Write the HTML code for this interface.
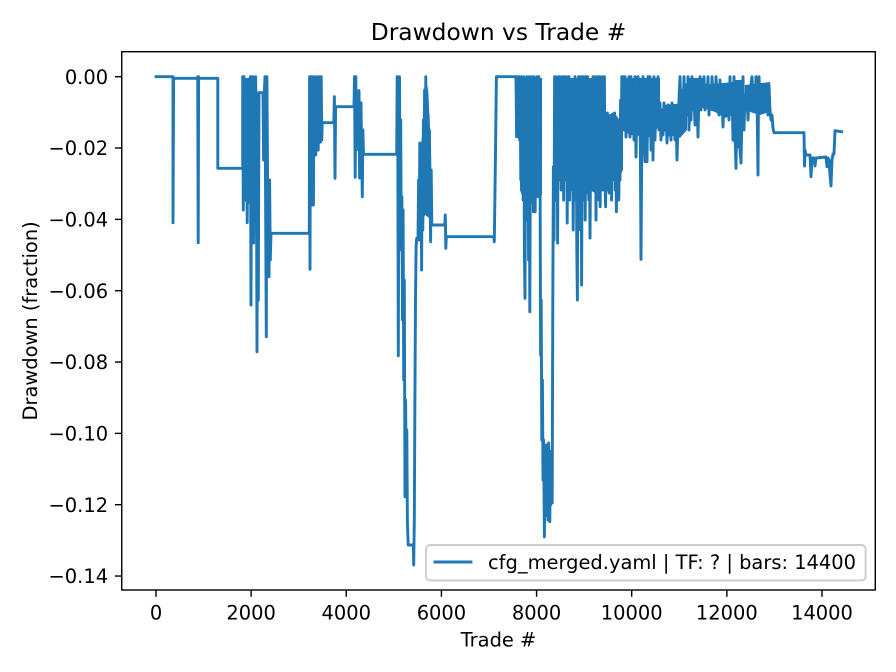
<!DOCTYPE html>
<html>
<head>
<meta charset="utf-8">
<style>
  html, body { margin: 0; padding: 0; background: #ffffff; }
  svg { display: block; }
  text { font-family: "DejaVu Sans", "Liberation Sans", sans-serif; fill: #000; }
</style>
</head>
<body>
<svg width="896" height="672" viewBox="0 0 896 672" xmlns="http://www.w3.org/2000/svg">
  <rect x="0" y="0" width="896" height="672" fill="#ffffff"/>

  <!-- Title -->
  <text x="498.5" y="40" font-size="23.33" text-anchor="middle">Drawdown vs Trade #</text>

  <!-- dense band fills -->
  <g fill="#1f77b4" stroke="none">
    <polygon points="243,78 256,78 256,185 252,200 248,205 243,195"/>
    <polygon points="309.5,78 322,78 322,140 316,150 309.5,150"/>
    <polygon points="419,160 424,120 428,85 431,150 432,220 425,215 419,230"/>
    <polygon points="516.5,78 520,78 520,136 516.5,136"/>
    <polygon points="520,78 542,78 542,195 537,197 533,205 529,200 525,205 520,190"/>
    <polygon points="543.5,450 552,450 552,505 548,515 543.5,520"/>
    <polygon points="555,78 603,78 603,185 598,195 590,190 583,200 578,205 572,195 567,150 562,145 558,140 555,140"/>
    <polygon points="603,120 608,115 614,112 623,125 623,170 617,180 610,182 603,178"/>
    <polygon points="623,78 660,78 660,125 652,135 645,140 637,135 630,135 623,130"/>
    <polygon points="663,105 687,103 687,130 680,138 670,135 663,130"/>
    <polygon points="687,78 703,78 703,108 695,112 687,110"/>
    <polygon points="703,85 733,82 733,115 725,118 715,112 703,108"/>
    <polygon points="733,80 742,80 742,145 736,150 733,140"/>
    <polygon points="745,85 770,82 770,112 760,115 750,112 745,108"/>
  </g>

  <!-- data series -->
  <polyline fill="none" stroke="#1f77b4" stroke-width="2.92" stroke-linejoin="round" stroke-linecap="square" points="
156,76.7 173,76.7 173,222.7 173.6,78.3 197.5,78.3 197.7,76.7 198.2,242.7 198.6,76.7 199,78.3 217.8,78.3 217.8,168.3 242.7,168.3
242.7,76.7 243.3,210 244,76.7 244.6,200 245.3,120 246,185 246.6,90 247.2,222.7 247.8,100 248.4,200 249,88 249.6,150 250.3,76.7 251,305 251.6,76.7 252.3,200 253,76.7 253.6,243 254.3,90 255,180 255.6,76.7 256.3,120 257,351.7 257.6,93 258.3,300 259,92.7 263,92.7 263.6,160 264.3,92.7 265,76.7 265.6,200 266.3,336.7 266.9,76.7 267.6,180 268.3,220 269,276.7 269.6,180 270.3,260 271,233.3 309.3,233.3
309.6,76.7 310,269.3 310.5,76.7 311,150 311.6,205 312.2,76.7 312.8,155 313.4,205 314,76.7 314.6,150 315.2,90 315.8,155 316.4,76.7 317,140 317.6,100 318.2,150 318.8,76.7 319.4,142 320,90 320.6,142 321.2,76.7 321.8,140 322.2,122.7 333.8,122.7 334.4,96.7 335,178.3 335.6,106.7 354,106.7 354.5,76.7 355.2,177.3 355.8,76.7 356.4,150 357,91 357.6,130 358.2,100 359,90.7 359.6,178 360.2,110 361,102.7 361.6,150 362.3,196.7 362.9,130 363.5,154.3 396.7,154.3
397.2,76.7 397.8,140 398.3,355.7 398.9,110 399.5,76.7 400.1,200 400.7,120 401.3,250 401.9,196.7 402.5,320 403.1,210 403.7,380 404.3,280 405,496.7 405.6,400 406.2,473 406.8,430 407.4,523 408.2,545 413.3,545 413.7,565 414.3,521.7 414.9,400 415.5,300 416.1,246.7 416.7,238.3 418,238.3
418.6,180 419.2,240 419.8,143 420.4,200 421,160 421.6,270 422.2,150 422.8,230 423.4,120 424,180 424.6,90 425.2,170 425.8,76.7 426.4,200 427,100 427.6,150 428.2,115 428.8,210 429.4,130 430,190 430.6,241.7 431.2,170 431.8,225 444.8,225 445.3,215 445.8,248.3 446.3,236.7 493.8,236.7 494.3,241.7 494.8,205 495.4,160 496.4,76.7 516,76.7
516.6,136.7 517.2,76.7 517.8,120 518.4,136.7 519,76.7 519.6,140 520.2,90 520.8,180 521.4,76.7 522,160 522.6,100 523.2,200 523.8,76.7 524.4,250 525,298.3 525.6,90 526.2,180 526.8,76.7 527.4,220 528,140 528.6,260 529.2,76.7 529.8,311.7 530.4,150 531,200 531.6,76.7 532.2,190 532.8,120 533.4,211.7 534,76.7 534.6,180 535.2,211.7 535.8,90 536.4,170 537,76.7 537.6,196.7 538.2,120 538.8,76.7 539.4,180 540,150 540.6,355 541.2,300 541.8,440 542.4,380 543,480 543.6,440 544.4,536.7 545,460 545.6,510 546.2,445 546.8,500 547.4,450 548,520 548.6,443 549.2,490 549.8,521.7 550.4,460 551,500 551.6,480 552.2,503 552.8,300 553.4,166.7 554,240 554.6,76.7
555.2,200 555.8,90 556.4,150 557,76.7 557.6,243 558.2,100 558.8,180 559.4,76.7 560,160 560.6,110 561.2,190 561.8,76.7 562.4,150 563,90 563.6,200 564.2,76.7 564.8,150 565.4,120 566,180 566.6,76.7 567.2,223 567.8,100 568.4,170 569,76.7 569.6,200 570.2,110 570.8,150 571.4,103 572,190 572.6,127 573.2,230 573.8,120 574.4,160 575,76.7 575.6,200 576.2,100 576.8,250 577.4,300 578,120 578.6,76.7 579.2,190 579.8,110 580.4,230 581,76.7 581.6,285 582.2,120 582.8,200 583.4,76.7 584,180 584.6,100 585.2,220 585.8,76.7 586.4,160 587,190 587.6,76.7 588.2,150 588.8,200 589.4,127 590,238 590.6,150 591.2,110 591.8,190 592.4,120 593,76.7 593.6,180 594.2,100 594.8,160 595.4,76.7 596,220 596.6,120 597.2,180 597.8,76.7 598.4,150 599,200 599.6,76.7 600.2,206.7 600.8,90 601.4,170 602,76.7 602.6,190 603.2,110 603.8,150 604.4,76.7 605,180 605.6,206.7 606.2,120 606.8,190 607.4,113 608,170 608.6,140 609.2,193 609.8,130 610.4,180 611,150 611.6,200 612.2,120 612.8,170 613.4,130 614,160 614.6,113 615.2,190 615.8,150 616.4,211.7 617,140 617.6,190 618.2,150 618.8,200 619.4,130 620,180 620.6,100 621.2,160 621.8,76.7
622.4,120 623,76.7 624,130 625,76.7 626,137 627,80 628,120 629,76.7 630,137 631,76.7 632,125 633,90 634,140 635,76.7 636,157 637,100 638,76.7 639,130 640,90 641,259.3 642,110 643,76.7 644,140 645,161.7 646,90 647,161.7 648,76.7 649,130 650,76.7 651,150 652,100 653,160 654,76.7 655,140 656,90 657,120 658,76.7 659,130 660,103 661,140 662,110 663,135 664,103 665,130 666,113 667,143 668,105 669,135 670,110 671,140 672,103 673,128 674,115 675,140 676,110 677,160 678,120 679,100 680,76.7 681,110 682,90 683,120 684,76.7 685,125 686,85 687,115 688,76.7 689,130 690,90 691,120 692,76.7 693,110 694,95 695,125 696,80 697,100 698,137 699,90 700,76.7 701,110 702,80 703,95 704,76.7 705,110 706,85 707,100 708,76.7 709,115 710,90 711,105 712,76.7 713,100 714,85 715,110 716,76.7 717,100 718,90 719,115 720,80 721,105 722,95 723,127 724,100 725,115 726,90 727,100 728,95 729,120 730,76.7 731,110 732,90 733,140 734,76.7 735,130 736,168.3 737,100 738,140 739,90 740,150 741,163 742,110 743,76.7 744,130 745,95 746,110 747,93 748,120 749,95 750,105 751,85 752,76.7 753,100 754,88 755,110 756,76.7 757,95 758,175 758.5,90 759,76.7 760,100 761,85 762,105 763,95 764,110 765,90 766,100 767,95 768,115 769,85 770,110 771,120 772,115 773,128.3 774,132.7 804,132.7 804.5,166 805,150 806,155 810,155 811,176.7 812,158 814,158 815,166 816,158 826,157 827,166.7 828,158 829,160 830,175 831,186 832,160 833,154 834,154 835,130.7 841.7,131.7"/>

  <!-- axes spines -->
  <rect x="121.75" y="51.7" width="753.55" height="538.3" fill="none" stroke="#000" stroke-width="1.4"/>

  <!-- x ticks -->
  <g stroke="#000" stroke-width="1.4">
    <line x1="156" y1="590" x2="156" y2="596.8"/>
    <line x1="251.14" y1="590" x2="251.14" y2="596.8"/>
    <line x1="346.28" y1="590" x2="346.28" y2="596.8"/>
    <line x1="441.43" y1="590" x2="441.43" y2="596.8"/>
    <line x1="536.57" y1="590" x2="536.57" y2="596.8"/>
    <line x1="631.71" y1="590" x2="631.71" y2="596.8"/>
    <line x1="726.85" y1="590" x2="726.85" y2="596.8"/>
    <line x1="822" y1="590" x2="822" y2="596.8"/>
  </g>
  <g font-size="19.44" text-anchor="middle">
    <text x="156" y="619.5">0</text>
    <text x="251.14" y="619.5">2000</text>
    <text x="346.28" y="619.5">4000</text>
    <text x="441.43" y="619.5">6000</text>
    <text x="536.57" y="619.5">8000</text>
    <text x="631.71" y="619.5">10000</text>
    <text x="726.85" y="619.5">12000</text>
    <text x="822" y="619.5">14000</text>
  </g>
  <text x="498.5" y="646.7" font-size="19.44" text-anchor="middle">Trade #</text>

  <!-- y ticks -->
  <g stroke="#000" stroke-width="1.4">
    <line x1="121.75" y1="76.7" x2="114.95" y2="76.7"/>
    <line x1="121.75" y1="148.03" x2="114.95" y2="148.03"/>
    <line x1="121.75" y1="219.37" x2="114.95" y2="219.37"/>
    <line x1="121.75" y1="290.7" x2="114.95" y2="290.7"/>
    <line x1="121.75" y1="362.03" x2="114.95" y2="362.03"/>
    <line x1="121.75" y1="433.37" x2="114.95" y2="433.37"/>
    <line x1="121.75" y1="504.7" x2="114.95" y2="504.7"/>
    <line x1="121.75" y1="576.03" x2="114.95" y2="576.03"/>
  </g>
  <g font-size="19.44" text-anchor="end">
    <text x="108.1" y="83.9">0.00</text>
    <text x="108.1" y="155.2">−0.02</text>
    <text x="108.1" y="226.6">−0.04</text>
    <text x="108.1" y="297.9">−0.06</text>
    <text x="108.1" y="369.2">−0.08</text>
    <text x="108.1" y="440.6">−0.10</text>
    <text x="108.1" y="511.9">−0.12</text>
    <text x="108.1" y="583.2">−0.14</text>
  </g>
  <text transform="translate(37,320.9) rotate(-90)" font-size="19.44" text-anchor="middle">Drawdown (fraction)</text>

  <!-- legend -->
  <rect x="426" y="545" width="439.6" height="35.4" rx="3.9" ry="3.9" fill="#ffffff" fill-opacity="0.8" stroke="#cccccc" stroke-width="1.9"/>
  <line x1="433.5" y1="562" x2="472.4" y2="562" stroke="#1f77b4" stroke-width="2.92"/>
  <text x="488" y="568.8" font-size="19.44">cfg_merged.yaml | TF: ? | bars: 14400</text>
</svg>
</body>
</html>
